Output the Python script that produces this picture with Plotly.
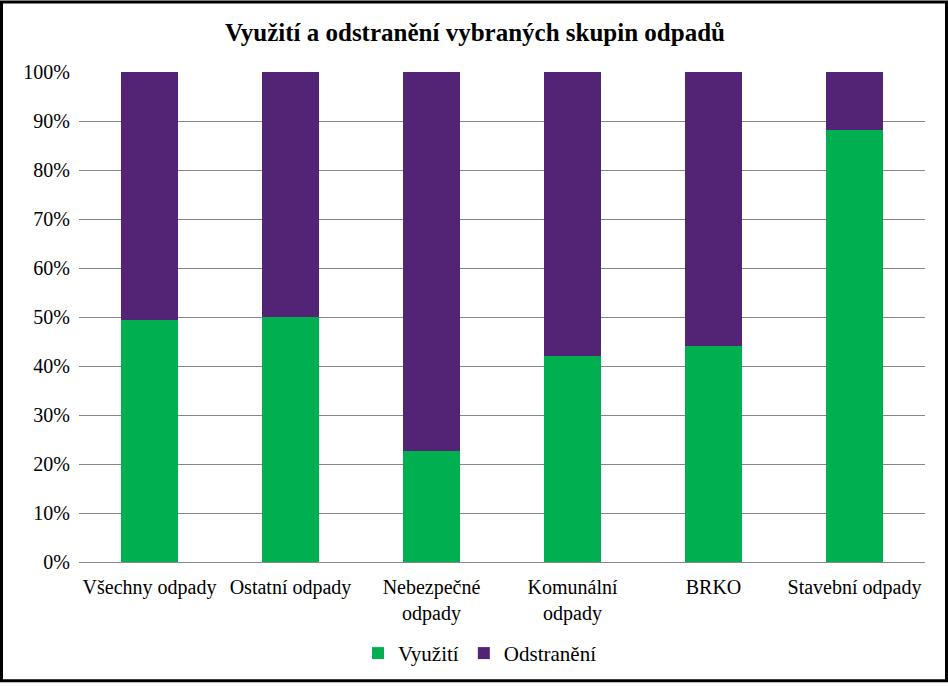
import plotly.graph_objects as go

categories = ["Všechny odpady", "Ostatní odpady", "Nebezpečné<br>odpady", "Komunální<br>odpady", "BRKO", "Stavební odpady"]
vyuziti = [49.3, 50.0, 22.7, 42.0, 44.0, 88.2]
odstraneni = [100 - v for v in vyuziti]
tick_vals = [0, 10, 20, 30, 40, 50, 60, 70, 80, 90, 100]
tick_text = [f"{t}%" for t in tick_vals]

W, H = 948, 686
L, R, T, B = 79, 23, 72, 121
pw, ph = W - L - R, H - T - B

fig = go.Figure()
fig.add_trace(go.Bar(x=categories, y=vyuziti, name="Využití", marker=dict(color="#00B050", line=dict(width=0))))
fig.add_trace(go.Bar(x=categories, y=odstraneni, name="Odstranění", marker=dict(color="#532476", line=dict(width=0))))

font_family = "Liberation Serif"
fig.update_layout(
    barmode="stack",
    bargap=0.6,
    width=W, height=H,
    margin=dict(l=L, r=R, t=T, b=B),
    paper_bgcolor="white", plot_bgcolor="white",
    font=dict(family=font_family, size=20, color="black"),
    title=dict(text="<b>Využití a odstranění vybraných skupin odpadů</b>", x=475 / W, xref="container",
               xanchor="center", y=1 - 32 / H, yanchor="middle", font=dict(size=25, family=font_family)),
    legend=dict(orientation="h", x=(480 - L) / pw, xanchor="center", y=(565 - 657) / ph, yanchor="middle",
                font=dict(size=21), traceorder="normal", itemwidth=30),
    showlegend=True,
)
fig.update_yaxes(range=[0, 100], tickvals=tick_vals, ticktext=tick_text, showgrid=True,
                 gridcolor="#868686", gridwidth=1, zeroline=False, showline=False, ticks="",
                 tickfont=dict(size=20), ticklabelstandoff=8)
fig.update_xaxes(showline=True, linecolor="#868686", linewidth=1, ticks="", tickfont=dict(size=20),
                 ticklabelstandoff=7)

# outer black frame
fig.add_shape(type="rect", xref="paper", yref="paper",
              x0=(1.5 - L) / pw, x1=(W - 1.5 - L) / pw,
              y0=(ph + T - (H - 1.5)) / ph, y1=(ph + T - 1.5) / ph,
              line=dict(color="black", width=3), fillcolor="rgba(0,0,0,0)", layer="above")

fig.write_html("out.html", config={"displayModeBar": False},
               post_script="document.body.style.margin='0';document.body.style.overflow='hidden';")
